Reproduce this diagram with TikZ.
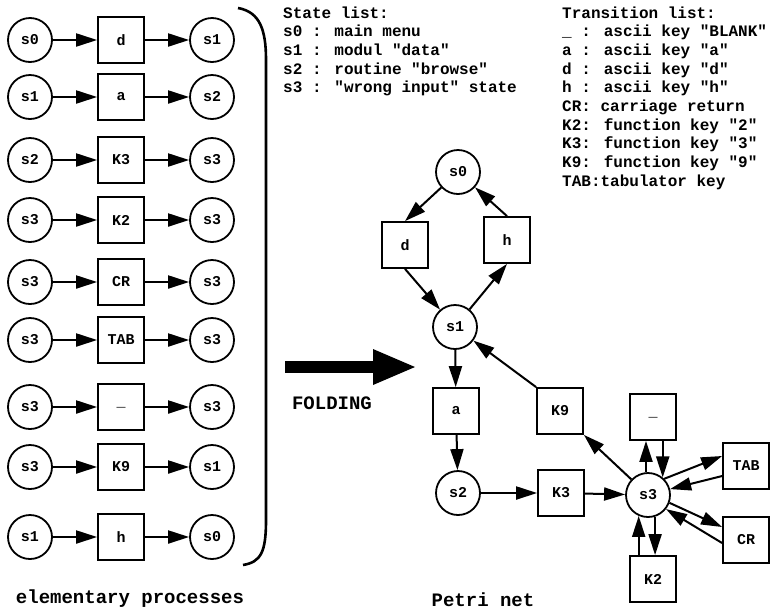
\documentclass[tikz,border=0pt]{standalone}
\usepackage{fontspec}
\setmainfont{Liberation Mono}[Ligatures=TeXOff]
\usetikzlibrary{arrows.meta}
\begin{document}
\begin{tikzpicture}[x=1pt,y=-1pt,
  place/.style={circle,draw,line width=1.8pt,minimum size=44pt,inner sep=0pt,font=\fontsize{15}{15}\selectfont\bfseries},
  trans/.style={rectangle,draw,line width=1.8pt,minimum size=46pt,inner sep=0pt,font=\fontsize{15}{15}\selectfont\bfseries},
  arr/.style={line width=2pt,-{Triangle[length=21pt,width=13pt]}},
  lst/.style={anchor=base west,inner sep=0pt,font=\fontsize{16}{18}\selectfont\bfseries},
  capt/.style={font=\fontsize{19}{19}\selectfont\bfseries,inner sep=0pt}]
\useasboundingbox (0,0) rectangle (770,611);

% elementary processes
\foreach \y/\a/\t/\b [count=\i] in {40/s0/d/s1, 97/s1/a/s2, 160/s2/K3/s3, 220/s3/K2/s3, 282/s3/CR/s3, 340/s3/TAB/s3, 407/s3/\_/s3, 467/s3/K9/s1, 537/s1/h/s0}{
  \node[place] (L\i) at (30,\y) {\a};
  \node[trans] (T\i) at (121,\y) {\t};
  \node[place] (R\i) at (212,\y) {\b};
  \draw[arr] (L\i) -- (T\i);
  \draw[arr] (T\i) -- (R\i);
}

% brace
\draw[line width=2.6pt] (238,8) .. controls (260,12) and (266,30) .. (266,60) -- (266,520) .. controls (266,552) and (261,562) .. (243,565);

% state list
\node[lst] (sl0) at (283,18.0) {State list:};
\node[lst] (sl1) at (283,36.7) {s0 : main menu};
\node[lst] (sl2) at (283,55.4) {s1 : modul "data"};
\node[lst] (sl3) at (283,74.1) {s2 : routine "browse"};
\node[lst] (sl4) at (283,92.8) {s3 : "wrong input" state};

% transition list
\node[lst] (tl0) at (562,18.0) {Transition list:};
\node[lst] (tl1) at (562,36.7) {\_ : ascii key "BLANK"};
\node[lst] (tl2) at (562,55.4) {a : ascii key "a"};
\node[lst] (tl3) at (562,74.1) {d : ascii key "d"};
\node[lst] (tl4) at (562,92.8) {h : ascii key "h"};
\node[lst] (tl5) at (562,111.5) {CR: carriage return};
\node[lst] (tl6) at (562,130.2) {K2: function key "2"};
\node[lst] (tl7) at (562,148.9) {K3: function key "3"};
\node[lst] (tl8) at (562,167.6) {K9: function key "9"};
\node[lst] (tl9) at (562,186.3) {TAB:tabulator key};

% folding arrow
\fill (285,361) rectangle (375,373);
\fill (373,349) -- (415,367) -- (373,385) -- cycle;
\node[capt] (fold) at (332,403) {FOLDING};

% captions
\node[capt] (cap1) at (130,599) {elementary processes};
\node[capt] (cap2) at (483,600) {Petri net};

% Petri net
\node[place] (ps0) at (458,172) {s0};
\node[trans] (pd) at (405,245) {d};
\node[trans] (ph) at (507,240) {h};
\node[place] (ps1) at (455,327) {s1};
\node[trans] (pa) at (456,411) {a};
\node[trans] (pk9) at (560,411) {K9};
\node[trans] (pbl) at (653,417) {\_};
\node[place] (ps2) at (458,493) {s2};
\node[trans] (pk3) at (561,493) {K3};
\node[place] (ps3) at (648,495) {s3};
\node[trans] (ptab) at (746,466) {TAB};
\node[trans] (pcr) at (746,540) {CR};
\node[trans] (pk2) at (653,579) {K2};

\draw[arr] (ps0) -- (pd.north);
\draw[arr] (pd.south) -- (ps1);
\draw[arr] (ps1) -- (ph.south);
\draw[arr] (ph.north) -- (ps0);
\draw[arr] (ps1) -- (pa);
\draw[arr] (pa) -- (ps2);
\draw[arr] (ps2) -- (pk3);
\draw[arr] (pk3) -- (ps3);
\draw[arr] (pk9.north west) -- (ps1);
\draw[arr] (ps3) -- (pk9.south east);
\draw[arr] (ps3.95) -- (ps3.95 |- pbl.south);
\draw[arr] (ps3.50 |- pbl.south) -- (ps3.50);
\draw[arr] (ps3.45) -- ([yshift=10pt]ptab.west);
\draw[arr] ([yshift=-10pt]ptab.west) -- (ps3.15);
\draw[arr] (ps3.-20) -- ([yshift=13pt]pcr.west);
\draw[arr] ([yshift=-3pt]pcr.west) -- (ps3.-38);
\draw[arr] (ps3.-72) -- (ps3.-72 |- pk2.north);
\draw[arr] (ps3.-114 |- pk2.north) -- (ps3.-114);
\end{tikzpicture}
\end{document}
